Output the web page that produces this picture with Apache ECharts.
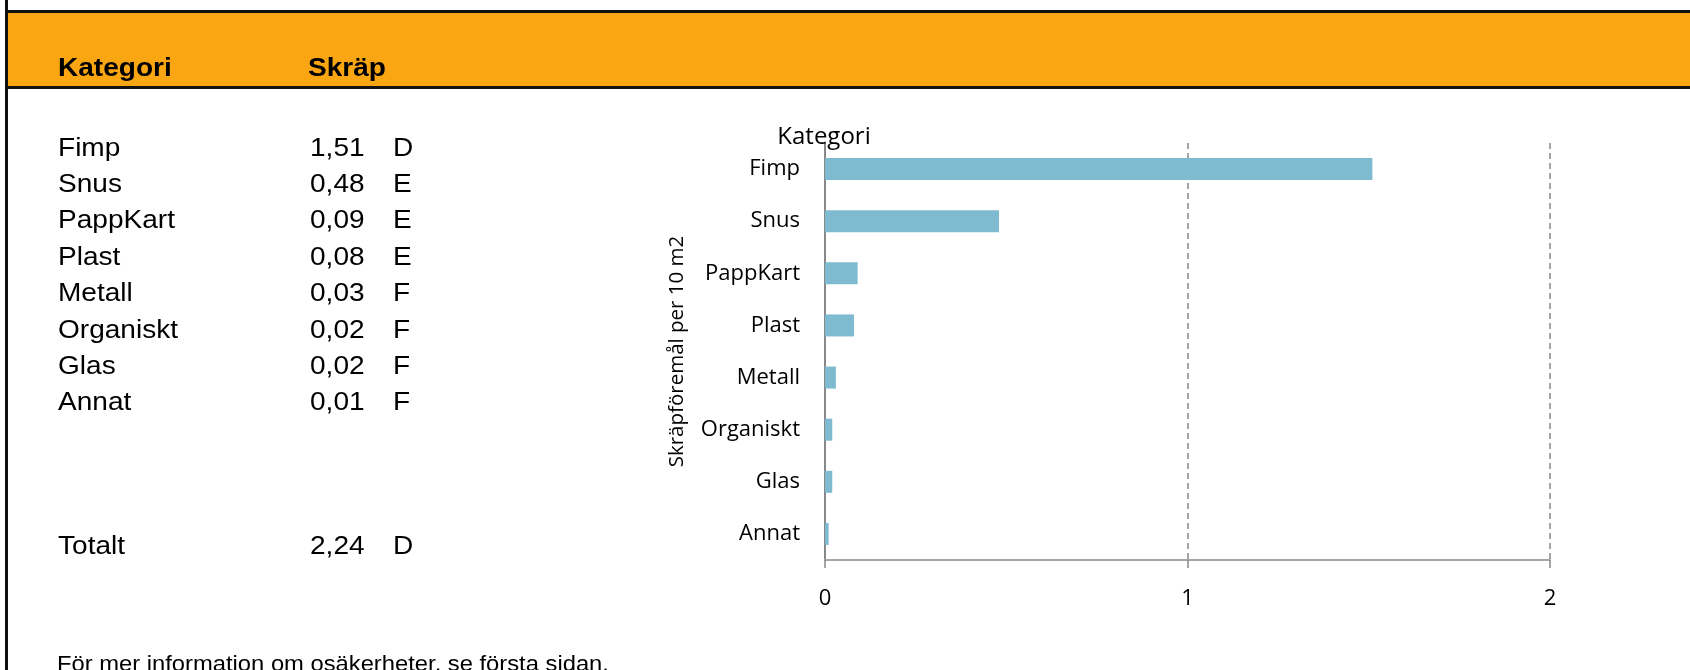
<!DOCTYPE html>
<html>
<head>
<meta charset="utf-8">
<script src="https://cdn.jsdelivr.net/npm/echarts@6/dist/echarts.min.js"></script>
<style>
html,body{margin:0;padding:0;background:#fff;}
#c{width:1690px;height:670px;}
</style>
</head>
<body>
<div id="c"></div>
<script>
const categories = ['Fimp','Snus','PappKart','Plast','Metall','Organiskt','Glas','Annat'];
const values = [1.51,0.48,0.09,0.08,0.03,0.02,0.02,0.01];
const classes = ['D','E','E','E','F','F','F','F'];
const totalValue = 2.24;
const totalClass = 'D';
const xTicks = [0,1,2];
const headerLabels = ['Kategori','Skräp'];
const footerText = 'För mer information om osäkerheter, se första sidan.';
const yAxisTitle = 'Skräpföremål per 10 m2';
const chartTitle = 'Kategori';

const fmt = v => v.toFixed(2).replace('.', ',');
const SX = 1.1;
function txt(x, y, s, size, weight, sx) {
  return {type:'text', x:x, y:y, scaleX:sx||SX, z:10,
    style:{text:s, fontFamily:'"Liberation Sans", Arial, sans-serif', fontSize:size,
      fontWeight:weight||'normal', fill:'#000', verticalAlign:'middle', align:'left'}};
}
const graphics = [
  {type:'rect', shape:{x:6,y:11,width:1690,height:76}, style:{fill:'#FAA512'}},
  {type:'rect', shape:{x:6,y:10,width:1690,height:3}, style:{fill:'#111'}},
  {type:'rect', shape:{x:6,y:86,width:1690,height:3}, style:{fill:'#111'}},
  {type:'rect', shape:{x:5,y:0,width:3,height:670}, style:{fill:'#111'}},
  txt(58, 69, headerLabels[0], 25.5, 'bold'),
  txt(308, 69, headerLabels[1], 25.5, 'bold'),
  txt(58, 547, 'Totalt', 25.5),
  txt(310, 547, fmt(totalValue), 25.5),
  txt(393, 547, totalClass, 25.5),
  txt(57, 665, footerText, 21.5, 'normal', 1.105),
  {type:'text', x:824, y:137, z:10, style:{text:chartTitle, fontFamily:'"Open Sans", sans-serif', fontSize:24, fill:'#000', align:'center', verticalAlign:'middle'}}
];
categories.forEach((c, i) => {
  const y = 148.5 + i * 36.4;
  graphics.push(txt(58, y, c, 25.5));
  graphics.push(txt(310, y, fmt(values[i]), 25.5));
  graphics.push(txt(393, y, classes[i], 25.5));
});

const chart = echarts.init(document.getElementById('c'), null, {renderer:'canvas'});
chart.setOption({
  animation:false,
  backgroundColor:'#fff',
  graphic: graphics,
  grid:{left:825, right:140, top:143, bottom:110, containLabel:false},
  xAxis:{
    type:'value', min:xTicks[0], max:xTicks[xTicks.length-1], interval:1,
    axisLine:{show:true, lineStyle:{color:'#a6a6a6', width:2}},
    axisTick:{show:true, length:8, lineStyle:{color:'#888', width:1.5}},
    axisLabel:{fontFamily:'"Open Sans", sans-serif', fontSize:22, color:'#000', margin:28},
    splitLine:{show:true, lineStyle:{type:[6,4], color:'#888', width:1.5}}
  },
  yAxis:{
    type:'category', inverse:true, data:categories,
    axisLine:{show:true, lineStyle:{color:'#888', width:2}},
    axisTick:{show:false},
    axisLabel:{fontFamily:'"Open Sans", sans-serif', fontSize:22, color:'#000', margin:25, padding:[0,0,14,0]},
    name:yAxisTitle, nameLocation:'middle', nameGap:137,
    nameTextStyle:{fontFamily:'"Open Sans", sans-serif', fontSize:20.5, color:'#000'}
  },
  series:[{type:'bar', data:values, barWidth:22, itemStyle:{color:'#7EBBD1'}, z:3}]
});
</script>
</body>
</html>
